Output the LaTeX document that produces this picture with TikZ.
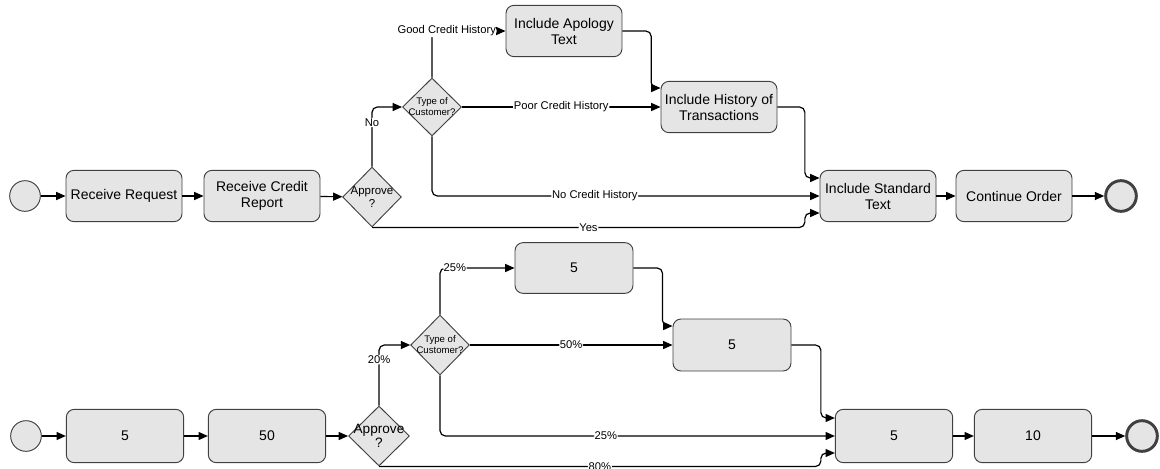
\documentclass[tikz,border=0pt]{standalone}
\usepackage{fontspec}
\setmainfont{Liberation Sans}
\usepackage{tikz}
\usetikzlibrary{shapes.geometric}
\usetikzlibrary{arrows.meta}

\tikzset{
        task/.style={draw=black!75, fill=black!10, line width=0.7pt, rounded corners=6pt,
                minimum width=87pt, minimum height=38.5pt, inner sep=1pt, align=center,
                font=\fontsize{10.5}{12}\selectfont},
        numtask/.style={task, minimum width=88pt, minimum height=40pt},
        gate/.style={draw=black!75, fill=black!10, line width=0.7pt, diamond,
                minimum width=44pt, minimum height=45pt, inner sep=0pt},
        gatetext/.style={align=center, inner sep=0pt, font=\fontsize{8.6}{9.8}\selectfont},
        typetext/.style={align=center, inner sep=0pt, font=\fontsize{7.2}{8.2}\selectfont},
        event/.style={draw=black!75, fill=black!10, line width=0.7pt, circle,
                minimum size=23pt, inner sep=0pt},
        flow/.style={-{Triangle[length=7pt,width=6pt]}, line width=0.9pt, rounded corners=4pt},
        lbl/.style={fill=white, inner sep=0.6pt, font=\fontsize{8.4}{10}\selectfont},
}

\begin{document}
\begin{tikzpicture}[x=0.75pt, y=-0.75pt]
        \useasboundingbox (0,0) rectangle (1160,468);

        % credit check, with texts
        \node[event] (start) at (25,196) {};
        \node[task] (recv) at (124,196) {Receive Request};
        \node[task] (credit) at (262,196) {Receive Credit\\Report};
        \node[gate] (approve) at (372,197) {};
        \node[gatetext] (approvetext) at (approve) {Approve\\?};
        \node[gate, minimum width=44.25pt, minimum height=43.5pt] (type) at (432,107) {};
        \node[typetext] (typetext) at (type) {Type of\\Customer?};
        \node[task] (apology) at (564,31) {Include Apology\\Text};
        \node[task] (history) at (719,107) {Include History of\\Transactions};
        \node[task] (standard) at (878,196) {Include Standard\\Text};
        \node[task] (cont) at (1014,196) {Continue Order};
        \node[event, line width=2.2pt] (stop) at (1121,196) {};

        \foreach \a/\b in {start/recv, recv/credit, credit/approve, standard/cont, cont/stop}
        \draw[flow] (\a) -- (\b);

        \draw[flow] (approve.north) |- node[lbl, pos=0.37] {No} (type.west);
        \draw[flow] (type.north) |- node[lbl, pos=0.6] {Good Credit History} (apology.west);
        \draw[flow] (type.east) -- node[lbl] {Poor Credit History} (history.west);
        \draw[flow] (type.south) |- node[lbl, pos=0.71] {No Credit History} (standard.west);
        \draw[flow] (approve.south) -- node[lbl] {Yes} ([xshift=-11pt]standard.west |- approve.south)
                |- ([yshift=-12.75pt]standard.west);
        \draw[flow] (apology.east) -| ([xshift=-7pt, yshift=14.25pt]history.west) -- ([yshift=14.25pt]history.west);
        \draw[flow] (history.east) -| ([xshift=-11pt, yshift=13.5pt]standard.west) -- ([yshift=13.5pt]standard.west);

        % same flow, with times and shares
        \node[event] (start2) at (26,436) {};
        \node[numtask] (recv2) at (125,436) {5};
        \node[numtask] (credit2) at (267,436) {50};
        \node[gate, minimum width=45.75pt] (approve2) at (379,436) {};
        \node[gatetext, font=\fontsize{10.2}{10.5}\selectfont] (approvetext2) at (approve2) {Approve\\?};
        \node[gate] (type2) at (440,345) {};
        \node[typetext] (typetext2) at (type2) {Type of\\Customer?};
        \node[numtask, minimum width=88.5pt, minimum height=38pt] (apology2) at (574,268) {5};
        \node[numtask, minimum width=88.5pt, minimum height=39pt] (history2) at (732,345) {5};
        \node[numtask] (standard2) at (894,436) {5};
        \node[numtask] (cont2) at (1033,436) {10};
        \node[event, line width=2.2pt] (stop2) at (1142,436) {};

        \foreach \a/\b in {start2/recv2, recv2/credit2, credit2/approve2, standard2/cont2, cont2/stop2}
        \draw[flow] (\a) -- (\b);

        \draw[flow] (approve2.north) |- node[lbl, pos=0.38] {20\%} (type2.west);
        \draw[flow] (type2.north) |- node[lbl, pos=0.6] {25\%} (apology2.west);
        \draw[flow] (type2.east) -- node[lbl] {50\%} (history2.west);
        \draw[flow] (type2.south) |- node[lbl, pos=0.71] {25\%} (standard2.west);
        \draw[flow] (approve2.south) -- node[lbl] {80\%} ([xshift=-10.5pt]standard2.west |- approve2.south)
                |- ([yshift=-12.75pt]standard2.west);
        \draw[flow] (apology2.east) -| ([xshift=-7.5pt, yshift=14.25pt]history2.west) -- ([yshift=14.25pt]history2.west);
        \draw[flow] (history2.east) -| ([xshift=-10.5pt, yshift=13.5pt]standard2.west) -- ([yshift=13.5pt]standard2.west);
\end{tikzpicture}
\end{document}
